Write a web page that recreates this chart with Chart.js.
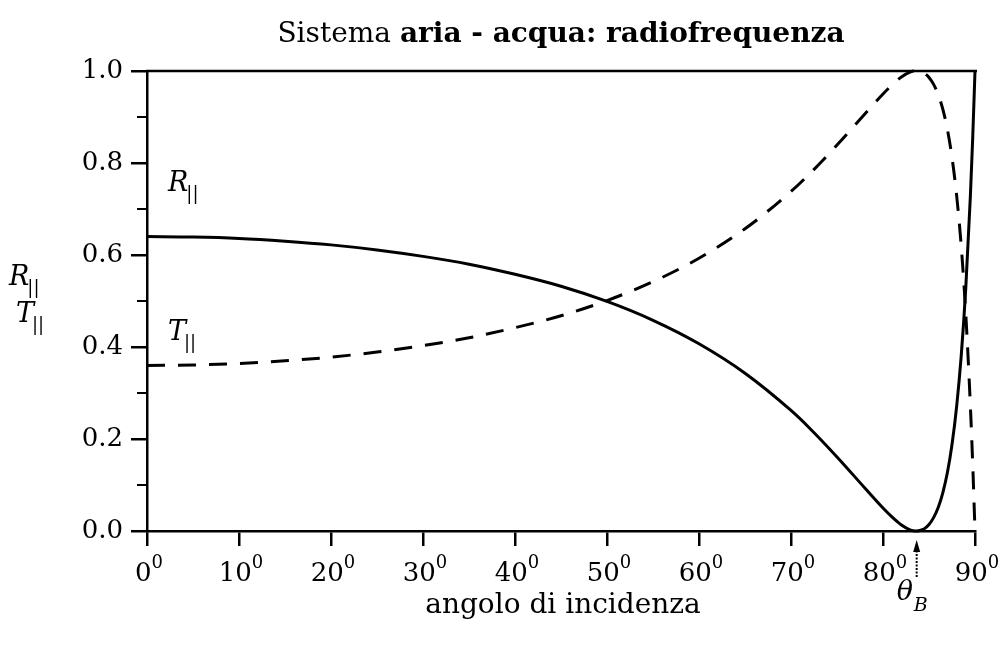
<!DOCTYPE html>
<html>
<head>
<meta charset="utf-8">
<script src="https://cdn.jsdelivr.net/npm/chart.js@4.4.1/dist/chart.umd.min.js"></script>
<style>
  html, body { margin: 0; padding: 0; background: #fff; }
  #wrap { width: 1001px; height: 645px; }
</style>
</head>
<body>
<div id="wrap"><canvas id="fresnel"></canvas></div>
<script>
// angles (degrees) and values
const angles = [0, 5, 10, 15, 20, 25, 30, 35, 40, 45, 50, 55, 60, 65, 70, 72, 75, 78, 80, 81, 82, 83, 83.5, 83.66, 84, 84.5, 85, 85.5, 86, 86.5, 87, 87.5, 88, 88.5, 89, 89.5, 89.75, 90];
const rPar = [0.640, 0.639, 0.636, 0.630, 0.622, 0.611, 0.597, 0.580, 0.558, 0.532, 0.499, 0.458, 0.407, 0.343, 0.262, 0.224, 0.161, 0.094, 0.050, 0.030, 0.013, 0.002, 0.000, 0.000, 0.001, 0.005, 0.014, 0.029, 0.051, 0.083, 0.127, 0.188, 0.270, 0.380, 0.529, 0.729, 0.854, 1.000];
const tPar = [0.360, 0.361, 0.364, 0.370, 0.378, 0.389, 0.403, 0.420, 0.442, 0.468, 0.501, 0.542, 0.593, 0.657, 0.738, 0.776, 0.839, 0.906, 0.950, 0.970, 0.987, 0.998, 1.000, 1.000, 0.999, 0.995, 0.986, 0.971, 0.949, 0.917, 0.873, 0.812, 0.730, 0.620, 0.471, 0.271, 0.146, 0.000];
const xTicks = [0, 10, 20, 30, 40, 50, 60, 70, 80, 90];
const yTicks = [0, 0.2, 0.4, 0.6, 0.8, 1.0];
const brewster = 83.66;

const serif = "'DejaVu Serif', 'Liberation Serif', serif";

function pts(ys) {
    return angles.map((a, i) => ({ x: a, y: ys[i] }));
}

// italic letter with a "||" subscript
function parLabel(ctx, letter, x, y, size) {
    ctx.font = "italic " + size + "px " + serif;
    ctx.textAlign = "left";
    ctx.textBaseline = "alphabetic";
    ctx.fillText(letter, x, y);
    let w = ctx.measureText(letter).width;
    ctx.font = Math.round(size * 0.68) + "px " + serif;
    ctx.fillText("||", x + w - 2, y + size * 0.3);
}

const extras = {
    id: "extras",
    afterDraw(chart) {
        const ctx = chart.ctx;
        const area = chart.chartArea;
        const xs = chart.scales.x;
        const ys = chart.scales.y;
        ctx.save();
        ctx.fillStyle = "#000";
        ctx.strokeStyle = "#000";

        // top frame line
        ctx.lineWidth = 2.5;
        ctx.beginPath();
        ctx.moveTo(area.left - 1, area.top);
        ctx.lineTo(area.right + 2, area.top);
        ctx.stroke();

        // minor y ticks
        ctx.lineWidth = 2;
        for (let v = 0.1; v < 1; v += 0.2) {
            let py = Math.round(ys.getPixelForValue(v));
            ctx.beginPath();
            ctx.moveTo(area.left - 10, py);
            ctx.lineTo(area.left, py);
            ctx.stroke();
        }

        // x tick labels with degree superscript
        xTicks.forEach(v => {
            let px = xs.getPixelForValue(v);
            let s = String(v);
            ctx.font = "26px " + serif;
            let w1 = ctx.measureText(s).width;
            ctx.font = "18px " + serif;
            let w2 = ctx.measureText("0").width;
            let x0 = px - (w1 + w2) / 2 + 2;
            ctx.textAlign = "left";
            ctx.textBaseline = "alphabetic";
            ctx.font = "26px " + serif;
            ctx.fillText(s, x0, area.bottom + 50);
            ctx.font = "18px " + serif;
            ctx.fillText("0", x0 + w1, area.bottom + 37);
        });

        // title
        ctx.textBaseline = "alphabetic";
        ctx.textAlign = "left";
        const t1 = "Sistema ";
        const t2 = "aria - acqua: radiofrequenza";
        ctx.font = "28px " + serif;
        let a = ctx.measureText(t1).width;
        ctx.font = "bold 28px " + serif;
        let b = ctx.measureText(t2).width;
        let cx = (area.left + area.right) / 2;
        let tx = cx - (a + b) / 2;
        ctx.font = "28px " + serif;
        ctx.fillText(t1, tx, 42);
        ctx.font = "bold 28px " + serif;
        ctx.fillText(t2, tx + a, 42);

        // x axis title
        ctx.font = "28px " + serif;
        ctx.textAlign = "center";
        ctx.fillText("angolo di incidenza", cx + 2, 613);

        // y axis title
        parLabel(ctx, "R", 9, 285, 27);
        parLabel(ctx, "T", 16, 322, 27);

        // curve labels
        parLabel(ctx, "R", 168, 191, 27);
        parLabel(ctx, "T", 168, 340, 27);

        // Brewster angle marker
        let bx = xs.getPixelForValue(brewster);
        ctx.lineWidth = 2;
        ctx.setLineDash([2, 1.5]);
        ctx.beginPath();
        ctx.moveTo(bx, area.bottom + 46);
        ctx.lineTo(bx, area.bottom + 18);
        ctx.stroke();
        ctx.setLineDash([]);
        ctx.beginPath();
        ctx.moveTo(bx, area.bottom + 9);
        ctx.lineTo(bx - 3.5, area.bottom + 21);
        ctx.lineTo(bx + 3.5, area.bottom + 21);
        ctx.closePath();
        ctx.fill();
        ctx.font = "italic 27px " + serif;
        ctx.textAlign = "left";
        ctx.fillText("\u03B8", bx - 20, area.bottom + 69);
        ctx.font = "italic 19px " + serif;
        ctx.fillText("B", bx - 3, area.bottom + 80);

        ctx.restore();
    }
};

const ctx = document.getElementById("fresnel").getContext("2d");
new Chart(ctx, {
    type: "line",
    data: {
        datasets: [
            {
                label: "R",
                data: pts(rPar),
                borderColor: "#000",
                borderWidth: 3,
                pointRadius: 0,
                cubicInterpolationMode: "monotone",
                fill: false,
                clip: 6
            },
            {
                label: "T",
                data: pts(tPar),
                borderColor: "#000",
                borderWidth: 3,
                borderDash: [18, 13],
                pointRadius: 0,
                cubicInterpolationMode: "monotone",
                fill: false,
                clip: 6
            }
        ]
    },
    options: {
        responsive: true,
        maintainAspectRatio: false,
        animation: false,
        layout: { padding: { top: 71, right: 26, left: 0, bottom: 0 } },
        plugins: {
            legend: { display: false },
            tooltip: { enabled: false }
        },
        scales: {
            x: {
                type: "linear",
                min: 0,
                max: 90,
                afterBuildTicks: s => { s.ticks = xTicks.map(v => ({ value: v })); },
                afterFit: s => { s.height = 114; },
                ticks: { display: false },
                grid: {
                    drawOnChartArea: false,
                    tickLength: 15,
                    color: "#000",
                    lineWidth: 2.5
                },
                border: { color: "#000", width: 2.5 }
            },
            y: {
                min: 0,
                max: 1,
                afterBuildTicks: s => { s.ticks = yTicks.map(v => ({ value: v })); },
                afterFit: s => { s.width = 147; },
                ticks: {
                    color: "#000",
                    padding: 8,
                    font: { family: serif, size: 26 },
                    callback: v => v.toFixed(1)
                },
                grid: {
                    drawOnChartArea: false,
                    tickLength: 16,
                    color: "#000",
                    lineWidth: 2.5
                },
                border: { color: "#000", width: 2.5 }
            }
        }
    },
    plugins: [extras]
});
</script>
</body>
</html>
